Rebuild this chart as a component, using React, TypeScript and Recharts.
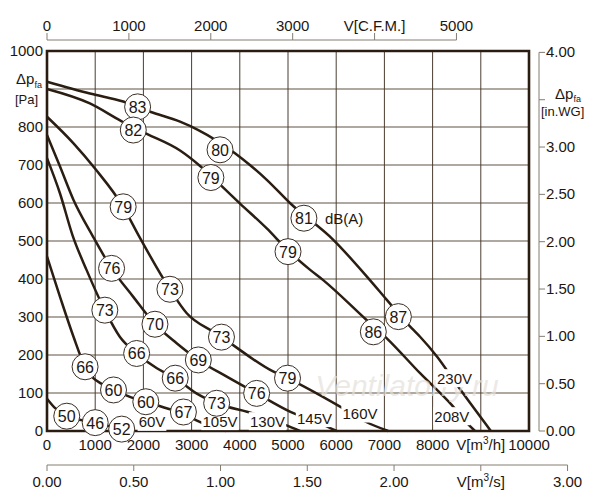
import {
  CartesianGrid,
  ComposedChart,
  Line,
  ReferenceArea,
  Scatter,
  XAxis,
  YAxis,
} from "recharts";

// layout (px)
const W = 600;
const H = 500;
const MARGIN = { top: 11, right: 11, bottom: 0, left: 7 };
const LEFT_W = 40;
const RIGHT_W = 60;
const TOP_H = 40;
const BOT_H = 34;
const MS_H = 35;
const PLOT_W = W - MARGIN.left - MARGIN.right - LEFT_W - RIGHT_W;
const PLOT_H = H - MARGIN.top - MARGIN.bottom - TOP_H - BOT_H - MS_H;

// unit conversions for the secondary scales
const FLOW_MAX = 10000; // m3/h
const PRESS_MAX = 1000; // Pa
const CFM_MAX = FLOW_MAX / 1.699;
const MS_MAX = FLOW_MAX / 3600;
const INWG_MAX = PRESS_MAX / 249.09;

const flowTicks = [0, 1000, 2000, 3000, 4000, 5000, 6000, 7000, 8000, 9000, 10000];
const pressTicks = [0, 100, 200, 300, 400, 500, 600, 700, 800, 900, 1000];
const cfmTicks = [0, 1000, 2000, 3000, 4000, 5000];
const msTicks = [0, 0.5, 1, 1.5, 2, 2.5, 3];
const inwgTicks = [0, 0.5, 1, 1.5, 2, 2.5, 3, 3.5, 4];

// fan curves, [m3/h, Pa]
const v230: [number, number][] = [
  [0, 919], [890, 888], [1580, 867], [2140, 840], [2760, 814], [3140, 792],
  [3900, 731], [4210, 700], [4560, 661], [5040, 600], [5940, 503], [6700, 397],
  [7050, 345], [7570, 270], [7740, 248], [8090, 196], [8530, 117], [9210, 0],
];
const v208: [number, number][] = [
  [0, 900], [890, 862], [1550, 815], [2070, 782], [2760, 738], [3170, 698],
  [3620, 645], [4000, 599], [4560, 533], [5000, 475], [5460, 424], [5730, 397],
  [6630, 292], [7050, 244], [7740, 152], [8400, 68], [8720, 20], [8880, 0],
];
const v160: [number, number][] = [
  [0, 827], [550, 757], [1000, 690], [1580, 590], [1900, 515], [2550, 373],
  [2900, 310], [3450, 261], [3620, 247], [4700, 156], [4990, 139], [6080, 64],
  [6600, 25], [7080, 0],
];
const v145: [number, number][] = [
  [0, 779], [270, 696], [550, 608], [940, 515], [1340, 428], [1790, 353],
  [2240, 281], [2690, 231], [3140, 187], [3730, 143], [4350, 99], [5040, 51],
  [5730, 16], [6010, 0],
];
const v130: [number, number][] = [
  [0, 718], [270, 625], [530, 515], [820, 424], [1200, 318], [1510, 248],
  [1860, 204], [2280, 165], [2660, 139], [3100, 99], [3520, 73], [4280, 46],
  [4940, 16], [5250, 0],
];
const v105: [number, number][] = [
  [0, 459], [270, 353], [550, 248], [790, 169], [1170, 121], [1380, 108],
  [1720, 90], [2050, 77], [2480, 60], [2830, 47], [3100, 28], [3720, 0],
];
const v60: [number, number][] = [
  [0, 85], [170, 60], [410, 39], [1000, 22], [1550, 5], [1800, 0],
];

const curves = [v230, v208, v160, v145, v130, v105, v60];

// sound levels dB(A) along the curves
const dbMarks = [
  { x: 1880, y: 853, db: 83 },
  { x: 1790, y: 792, db: 82 },
  { x: 3590, y: 740, db: 80 },
  { x: 3400, y: 667, db: 79 },
  { x: 5330, y: 560, db: 81, note: "dB(A)" },
  { x: 5000, y: 472, db: 79 },
  { x: 7290, y: 301, db: 87 },
  { x: 6770, y: 261, db: 86 },
  { x: 1580, y: 590, db: 79 },
  { x: 2550, y: 373, db: 73 },
  { x: 3620, y: 247, db: 73 },
  { x: 4990, y: 139, db: 79 },
  { x: 1340, y: 428, db: 76 },
  { x: 2240, y: 281, db: 70 },
  { x: 3140, y: 187, db: 69 },
  { x: 4350, y: 99, db: 76 },
  { x: 1200, y: 318, db: 73 },
  { x: 1860, y: 204, db: 66 },
  { x: 2660, y: 139, db: 66 },
  { x: 3520, y: 73, db: 73 },
  { x: 790, y: 169, db: 66 },
  { x: 1380, y: 108, db: 60 },
  { x: 2050, y: 77, db: 60 },
  { x: 2830, y: 50, db: 67 },
  { x: 410, y: 39, db: 50 },
  { x: 1000, y: 22, db: 46 },
  { x: 1550, y: 5, db: 52 },
];

const voltLabels = [
  { x: 8454, y: 139, text: "230V" },
  { x: 8400, y: 39, text: "208V" },
  { x: 6494, y: 46, text: "160V" },
  { x: 5550, y: 34, text: "145V" },
  { x: 4575, y: 26, text: "130V" },
  { x: 3589, y: 26, text: "105V" },
  { x: 2178, y: 24, text: "60V" },
];

const watermark = [{ x: 7470, y: 121, text: "Ventilatorry.ru" }];

// end points that give the secondary flow scales their range
const msRange = [{ x: 0, y: 0 }, { x: MS_MAX, y: 0 }];
const cfmRange = [{ x: 0, y: 0 }, { x: CFM_MAX, y: 0 }];

const FONT = "'Liberation Sans', Arial, Helvetica, sans-serif";
const INK = "#1d1611";
const CURVE = "#2a1d12";
const FRAME = "#2a1c10";
const AXIS = "#857c71";
const GRID_V = "#4b3d31";
const GRID_H = "#938b81";

const CFM_STEP = (PLOT_W * 1000) / CFM_MAX;
const MS_STEP = (PLOT_W * 0.5) / MS_MAX;
const INWG_STEP = (PLOT_H * 0.5) / INWG_MAX;

const txt = { fill: INK, fontFamily: FONT, stroke: "none" };

function FlowTick({ x, y, payload }: any) {
  const v = payload.value;
  return (
    <text x={x} y={y + 19} textAnchor="middle" fontSize={15} {...txt}>
      {v === 9000 ? (
        <>
          V[m<tspan dy={-6} fontSize={10}>3</tspan>
          <tspan dy={6}>/h]</tspan>
        </>
      ) : (
        v
      )}
    </text>
  );
}

function MsTick({ x, y, payload, index }: any) {
  const v = payload.value;
  return (
    <g>
      {index > 0 && <line x1={x - MS_STEP} x2={x} y1={y} y2={y} stroke={AXIS} />}
      <line x1={x} x2={x} y1={y} y2={y + 6} stroke={AXIS} />
      <text x={x} y={y + 22} textAnchor="middle" fontSize={15} {...txt}>
        {v === 2.5 ? (
          <>
            V[m<tspan dy={-6} fontSize={10}>3</tspan>
            <tspan dy={6}>/s]</tspan>
          </>
        ) : (
          v.toFixed(2)
        )}
      </text>
    </g>
  );
}

function CfmTick({ x, y, payload, index }: any) {
  const ly = y - 11;
  const v = payload.value;
  return (
    <g>
      {index > 0 && <line x1={x - CFM_STEP} x2={x} y1={ly} y2={ly} stroke={AXIS} />}
      <line x1={x} x2={x} y1={ly} y2={ly - 7} stroke={AXIS} />
      <text x={x} y={ly - 9} textAnchor="middle" fontSize={15} {...txt}>
        {v === 4000 ? "V[C.F.M.]" : v}
      </text>
    </g>
  );
}

function PressTick({ x, y, payload }: any) {
  const v = payload.value;
  if (v === 900) {
    return (
      <g>
        <text x={x - 31} y={y - 5} fontSize={15} {...txt}>
          Δp<tspan dy={4} fontSize={9}>fa</tspan>
        </text>
        <text x={x - 32} y={y + 15} fontSize={13} {...txt}>
          [Pa]
        </text>
      </g>
    );
  }
  return (
    <text x={x - 4} y={y + 5} textAnchor="end" fontSize={15} {...txt}>
      {v}
    </text>
  );
}

function InwgTick({ x, y, payload, index }: any) {
  const ax = x + 10;
  const v = payload.value;
  return (
    <g>
      {index > 0 && <line x1={ax} x2={ax} y1={y} y2={y + INWG_STEP} stroke={AXIS} />}
      <line x1={ax} x2={ax + 6} y1={y} y2={y} stroke={AXIS} />
      {v === 3.5 ? (
        <>
          <text x={x + 26} y={y - 1} fontSize={15} {...txt}>
            Δp<tspan dy={3} fontSize={9}>fa</tspan>
          </text>
          <text x={x + 12} y={y + 16} fontSize={13} {...txt}>
            [in.WG]
          </text>
        </>
      ) : (
        <text x={ax + 7} y={y + 5} fontSize={15} {...txt}>
          {v.toFixed(2)}
        </text>
      )}
    </g>
  );
}

function DbCircle({ cx, cy, payload }: any) {
  return (
    <g>
      <circle cx={cx} cy={cy} r={13} fill="#fff" stroke="#3a2e24" strokeWidth={1} />
      <text x={cx} y={cy + 6} textAnchor="middle" fontSize={16} {...txt}>
        {payload.db}
      </text>
      {payload.note && (
        <text x={cx + 21} y={cy + 6} fontSize={15} {...txt}>
          {payload.note}
        </text>
      )}
    </g>
  );
}

function VoltTag({ cx, cy, payload }: any) {
  const w = payload.text.length * 8.6 + 3;
  return (
    <g>
      <rect x={cx - w / 2} y={cy - 9} width={w} height={18} fill="#fff" />
      <text x={cx} y={cy + 5.5} textAnchor="middle" fontSize={15} {...txt}>
        {payload.text}
      </text>
    </g>
  );
}

function Watermark({ cx, cy, payload }: any) {
  return (
    <text
      x={cx}
      y={cy + 11}
      textAnchor="middle"
      fontSize={30}
      fontStyle="italic"
      fontFamily={FONT}
      fill="#e4e0da"
      fillOpacity={0.7}
    >
      {payload.text}
    </text>
  );
}

const toPts = (c: [number, number][]) => c.map(([x, y]) => ({ x, y }));

export default function App() {
  return (
    <div style={{ position: "absolute", left: 0, top: 0, background: "#fff" }}>
      <ComposedChart width={W} height={H} margin={MARGIN}>
        <XAxis
          type="number"
          dataKey="x"
          domain={[0, FLOW_MAX]}
          ticks={flowTicks}
          interval={0}
          height={BOT_H}
          axisLine={false}
          tickLine={false}
          tickSize={0}
          tickMargin={0}
          tick={<FlowTick />}
        />
        <XAxis
          xAxisId="ms"
          type="number"
          dataKey="x"
          domain={[0, MS_MAX]}
          allowDataOverflow
          ticks={msTicks}
          interval={0}
          height={MS_H}
          axisLine={false}
          tickLine={false}
          tickSize={0}
          tickMargin={0}
          tick={<MsTick />}
        />
        <XAxis
          xAxisId="cfm"
          orientation="top"
          type="number"
          dataKey="x"
          domain={[0, CFM_MAX]}
          allowDataOverflow
          ticks={cfmTicks}
          interval={0}
          height={TOP_H}
          axisLine={false}
          tickLine={false}
          tickSize={0}
          tickMargin={0}
          tick={<CfmTick />}
        />
        <YAxis
          type="number"
          dataKey="y"
          domain={[0, PRESS_MAX]}
          ticks={pressTicks}
          interval={0}
          width={LEFT_W}
          axisLine={false}
          tickLine={false}
          tickSize={0}
          tickMargin={0}
          tick={<PressTick />}
        />
        <YAxis
          yAxisId="inwg"
          orientation="right"
          type="number"
          domain={[0, INWG_MAX]}
          allowDataOverflow
          ticks={inwgTicks}
          interval={0}
          width={RIGHT_W}
          axisLine={false}
          tickLine={false}
          tickSize={0}
          tickMargin={0}
          tick={<InwgTick />}
        />
        <CartesianGrid vertical={false} stroke={GRID_H} strokeWidth={1.4} />
        <CartesianGrid horizontal={false} stroke={GRID_V} strokeWidth={1} />
        <Line
          xAxisId="ms"
          data={msRange}
          dataKey="y"
          stroke="none"
          dot={false}
          activeDot={false}
          isAnimationActive={false}
        />
        <Line
          xAxisId="cfm"
          data={cfmRange}
          dataKey="y"
          stroke="none"
          dot={false}
          activeDot={false}
          isAnimationActive={false}
        />
        <Scatter data={watermark} shape={<Watermark />} isAnimationActive={false} />
        {curves.map((c, i) => (
          <Line
            key={i}
            data={toPts(c)}
            dataKey="y"
            type="monotone"
            stroke={CURVE}
            strokeWidth={2.5}
            dot={false}
            activeDot={false}
            isAnimationActive={false}
          />
        ))}
        <ReferenceArea
          x1={0}
          x2={FLOW_MAX}
          y1={0}
          y2={PRESS_MAX}
          fill="none"
          stroke={FRAME}
          strokeWidth={2.6}
        />
        <Scatter data={voltLabels} shape={<VoltTag />} isAnimationActive={false} />
        <Scatter data={dbMarks} shape={<DbCircle />} isAnimationActive={false} />
      </ComposedChart>
    </div>
  );
}
